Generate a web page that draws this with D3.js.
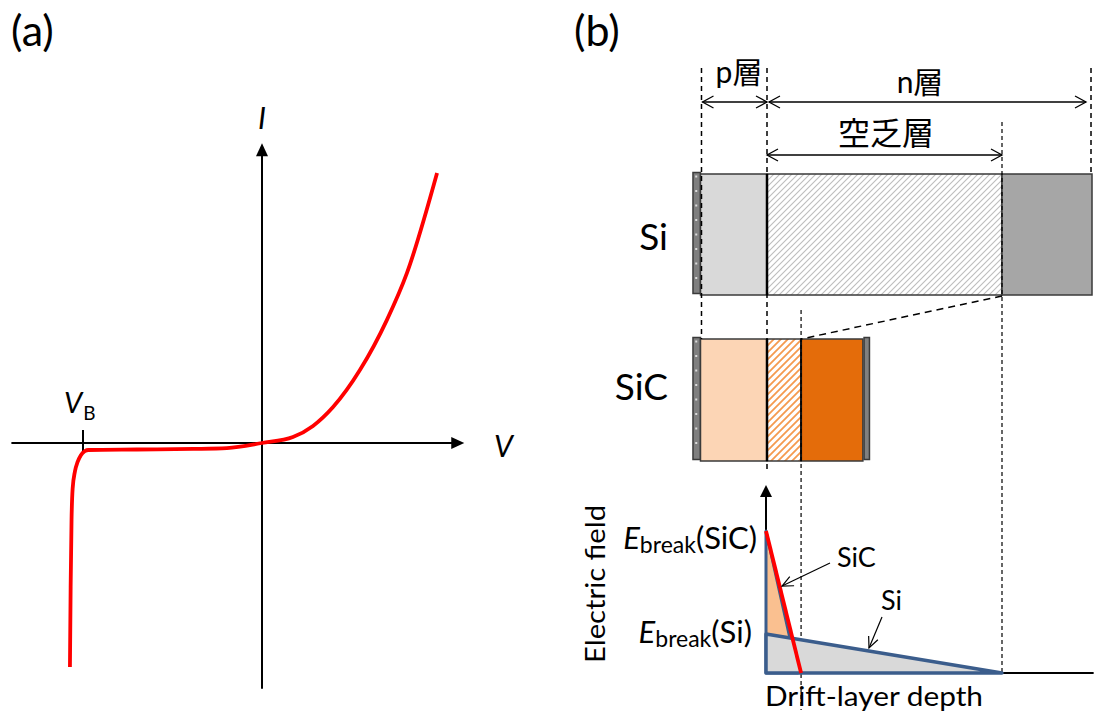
<!DOCTYPE html>
<html><head><meta charset="utf-8">
<script src="https://cdn.jsdelivr.net/npm/d3@7"></script>
<style>
html,body{margin:0;padding:0;background:#fff;}
svg{display:block;}
text{font-family:Lato,"Noto Sans CJK JP",sans-serif;fill:#000;}
</style></head>
<body><svg id="c" width="1094" height="713"></svg>
<script>
// ---------- DATA ----------
// (a) I-V characteristic (V normalised so that V_B = -1, I normalised to top of curve = 1)
const ivV = [-1.073,-1.069,-1.064,-1.058,-1.045,-1.03,-1.012,-0.99,-0.97,-0.7,-0.385,-0.196,0,0.173,0.285,0.397,0.547,0.698,0.81,0.978];
const ivI = [-0.83,-0.533,-0.285,-0.17,-0.105,-0.07,-0.045,-0.03,-0.026,-0.024,-0.022,-0.019,0,0.022,0.063,0.133,0.27,0.456,0.63,1.0];
const vAxisExtent = [-1.4, 1.13];
const iAxisExtent = [-0.91, 1.11];
const vBreak = -1;

// (b) layer structure (depth: junction = 0, Si depletion edge = 1)
const siLayerNames  = ["electrode","p","depletion","n"];
const siLayerStart  = [-0.315,-0.283,0,1.0];
const siLayerEnd    = [-0.283,0,1.0,1.383];
const sicLayerNames = ["electrode","p","depletion","n","electrode2"];
const sicLayerStart = [-0.315,-0.283,0,0.145,0.413];
const sicLayerEnd   = [-0.283,0,0.145,0.408,0.436];

// electric field profiles (field normalised to E_break(Si) = 1)
const siFieldDepth  = [0, 1.0];
const siFieldValue  = [1, 0];
const sicFieldDepth = [0, 0.145];
const sicFieldValue = [3.64, 0];
const eAxisTop = 4.82;
const baselineEnd = 1.39;

// ---------- SETUP ----------
const svg = d3.select("#c");
const defs = svg.append("defs");
function hatch(id, color, w, gap){
  const p = defs.append("pattern").attr("id",id).attr("patternUnits","userSpaceOnUse")
    .attr("width",gap).attr("height",gap);
  p.append("rect").attr("width",gap).attr("height",gap).attr("fill","#fff");
  p.append("path").attr("d",`M-1,1 l2,-2 M0,${gap} l${gap},-${gap} M${gap-1},${gap+1} l2,-2`)
    .attr("stroke",color).attr("stroke-width",w);
}
hatch("hSi","#bdbdbd",1.1,6);
hatch("hSiC","#f59a4e",1.8,7);

function filledHead(g,x,y,ang,len=13,half=6){
  const c=Math.cos(ang), s=Math.sin(ang);
  const bx=x-c*len, by=y-s*len;
  g.append("path").attr("d",`M${x},${y}L${bx - s*half},${by + c*half}L${bx + s*half},${by - c*half}Z`).attr("fill","#000");
}
function openHead(g,x,y,ang,len=11,half=6,w=1.3){
  const c=Math.cos(ang), s=Math.sin(ang);
  const bx=x-c*len, by=y-s*len;
  g.append("path").attr("d",`M${bx - s*half},${by + c*half}L${x},${y}L${bx + s*half},${by - c*half}`)
    .attr("fill","none").attr("stroke","#000").attr("stroke-width",w);
}

// ---------- (a) ----------
const xV = d3.scaleLinear().domain([-1,0]).range([83,262]);
const yI = d3.scaleLinear().domain([0,1]).range([443,173]);
const ga = svg.append("g");
ga.append("text").attr("x",11).attr("y",46).attr("font-size",43).text("(a)");
// axes
ga.append("line").attr("x1",xV(vAxisExtent[0])).attr("x2",xV(vAxisExtent[1])-8)
  .attr("y1",yI(0)).attr("y2",yI(0)).attr("stroke","#000").attr("stroke-width",2);
filledHead(ga,xV(vAxisExtent[1]),yI(0),0);
ga.append("line").attr("x1",xV(0)).attr("x2",xV(0))
  .attr("y1",yI(iAxisExtent[0])).attr("y2",yI(iAxisExtent[1])+8).attr("stroke","#000").attr("stroke-width",2);
filledHead(ga,xV(0),yI(iAxisExtent[1]),-Math.PI/2);
// V_B tick
ga.append("line").attr("x1",xV(vBreak)).attr("x2",xV(vBreak)).attr("y1",yI(0)-13).attr("y2",yI(0)+10)
  .attr("stroke","#000").attr("stroke-width",2);
// curve
const ivData = ivV.map((v,i)=>[v,ivI[i]]);
ga.append("path").datum(ivData)
  .attr("d",d3.line().x(d=>xV(d[0])).y(d=>yI(d[1])).curve(d3.curveMonotoneX))
  .attr("fill","none").attr("stroke","#ff0000").attr("stroke-width",3.8);
// labels
ga.append("text").attr("x",xV(0)-4).attr("y",129).attr("font-size",30).attr("font-style","italic").text("I");
ga.append("text").attr("x",494).attr("y",457).attr("font-size",30).attr("font-style","italic").text("V");
const vb = ga.append("text").attr("x",xV(vBreak)-19).attr("y",413).attr("font-size",29);
vb.append("tspan").attr("font-style","italic").text("V");
vb.append("tspan").attr("font-size",19).attr("dy",7).attr("dx",1).text("B");

// ---------- (b) ----------
const xd = d3.scaleLinear().domain([0,1]).range([767,1002]);
const yE = d3.scaleLinear().domain([0,1]).range([673,634]);
const gb = svg.append("g");
gb.append("text").attr("x",574).attr("y",46).attr("font-size",43).text("(b)");

const siTop=174, siBot=295, sicTop=339, sicBot=461;
const siFill = {electrode:"#7f7f7f", p:"#d9d9d9", depletion:"url(#hSi)", n:"#a6a6a6"};
const sicFill = {electrode:"#7f7f7f", p:"#fcd5b5", depletion:"url(#hSiC)", n:"#e46c0a", electrode2:"#808080"};

function drawBar(names, starts, ends, fills, y0, y1){
  names.forEach((nm,i)=>{
    const isE = nm.startsWith("electrode");
    const ey0 = isE ? y0-1.5 : y0, ey1 = isE ? y1-1.5 : y1;
    gb.append("rect").attr("x",xd(starts[i])).attr("y",ey0)
      .attr("width",xd(ends[i])-xd(starts[i])).attr("height",ey1-ey0)
      .attr("fill",fills[nm]).attr("stroke","#3a3a3a").attr("stroke-width",1.5);
    if(nm==="electrode"){
      const cx = (xd(starts[i])+xd(ends[i]))/2 - 0.5;
      d3.range(ey0+3, ey1-6, 14.5).forEach(yy=>{
        gb.append("rect").attr("x",cx-1).attr("y",yy).attr("width",2).attr("height",2).attr("fill","#dcdcdc");
      });
    }
  });
  // junction line
  gb.append("line").attr("x1",xd(0)).attr("x2",xd(0)).attr("y1",y0).attr("y2",y1)
    .attr("stroke","#000").attr("stroke-width",2.5);
}
drawBar(siLayerNames, siLayerStart, siLayerEnd, siFill, siTop, siBot);
drawBar(sicLayerNames, sicLayerStart, sicLayerEnd, sicFill, sicTop, sicBot);
gb.append("line").attr("x1",xd(sicLayerEnd[2])).attr("x2",xd(sicLayerEnd[2])).attr("y1",sicTop).attr("y2",sicBot)
  .attr("stroke","#111").attr("stroke-width",2);

// dashed guides
function dash(x1,y1,x2,y2,w=1.5,da="5,4"){
  gb.append("line").attr("x1",x1).attr("y1",y1).attr("x2",x2).attr("y2",y2)
    .attr("stroke","#000").attr("stroke-width",w).attr("stroke-dasharray",da);
}
dash(xd(siLayerStart[1])+1,68,xd(siLayerStart[1])+1,sicTop);
dash(xd(0),68,xd(0),469);
dash(xd(sicLayerEnd[2]),310,xd(sicLayerEnd[2]),710,1.2,"4,3");
dash(xd(1),122,xd(1),673,1.2,"4,3");
dash(xd(siLayerEnd[3])-1,68,xd(siLayerEnd[3])-1,siTop);
dash(xd(1),siBot+1,xd(sicLayerEnd[2]),sicTop,1.5,"7,5");

// dimension arrows
function dimArrow(xa,xb,y){
  gb.append("line").attr("x1",xa).attr("x2",xb).attr("y1",y).attr("y2",y).attr("stroke","#000").attr("stroke-width",1.3);
  openHead(gb,xa,y,Math.PI);
  openHead(gb,xb,y,0);
}
dimArrow(xd(siLayerStart[1])+2, xd(0), 102);
dimArrow(xd(0)+2, xd(siLayerEnd[3])-6, 102);
dimArrow(xd(0), xd(1), 155);
gb.append("text").attr("x",739).attr("y",83).attr("font-size",30).attr("text-anchor","middle").text("p層");
gb.append("text").attr("x",920).attr("y",93).attr("font-size",30).attr("text-anchor","middle").text("n層");
gb.append("text").attr("x",886).attr("y",145).attr("font-size",32).attr("text-anchor","middle").text("空乏層");

gb.append("text").attr("x",668).attr("y",250).attr("font-size",37).attr("text-anchor","end").text("Si");
gb.append("text").attr("x",668).attr("y",400).attr("font-size",37).attr("text-anchor","end").text("SiC");

// ---------- electric field plot ----------
const blue = "#3b5d8c";
const sicPoly = [[sicFieldDepth[0], sicFieldValue[0]], [sicFieldDepth[1]*0.9, sicFieldValue[1]], [0,0]];
const siPoly  = [[siFieldDepth[0], siFieldValue[0]], [siFieldDepth[1], siFieldValue[1]], [0,0]];
const axX = xd(0)-1;
const polyPath = pts => "M"+pts.map(p=>[xd(p[0])-(p[0]===0?1:0), yE(p[1])].join(",")).join("L")+"Z";
// y axis arrow
gb.append("line").attr("x1",axX).attr("x2",axX).attr("y1",yE(0)).attr("y2",yE(eAxisTop)+10)
  .attr("stroke","#000").attr("stroke-width",2);
filledHead(gb,axX,yE(eAxisTop),-Math.PI/2,12,6);
// baseline beyond depletion
gb.append("line").attr("x1",xd(1)).attr("x2",xd(baselineEnd)).attr("y1",yE(0)).attr("y2",yE(0))
  .attr("stroke","#000").attr("stroke-width",2);
gb.append("path").attr("d",polyPath(sicPoly)).attr("fill","#fac090").attr("stroke",blue).attr("stroke-width",3).attr("stroke-linejoin","round");
gb.append("path").attr("d",polyPath(siPoly)).attr("fill","#d9d9d9").attr("stroke",blue).attr("stroke-width",3.5).attr("stroke-linejoin","round");
gb.append("line").attr("x1",xd(sicFieldDepth[0])-1).attr("y1",yE(sicFieldValue[0]))
  .attr("x2",xd(sicFieldDepth[1])).attr("y2",yE(sicFieldValue[1]))
  .attr("stroke","#ff0000").attr("stroke-width",3.8);

// labels
const eSiC = gb.append("text").attr("x",757).attr("y",549).attr("font-size",31).attr("text-anchor","end");
eSiC.append("tspan").attr("font-style","italic").text("E");
eSiC.append("tspan").attr("font-size",23).attr("dy",4).text("break");
eSiC.append("tspan").attr("dy",-4).text("(SiC)");
const eSi = gb.append("text").attr("x",752).attr("y",643).attr("font-size",31).attr("text-anchor","end");
eSi.append("tspan").attr("font-style","italic").text("E");
eSi.append("tspan").attr("font-size",23).attr("dy",4).text("break");
eSi.append("tspan").attr("dy",-4).text("(Si)");

gb.append("text").attr("x",837).attr("y",567).attr("font-size",27).text("SiC");
gb.append("line").attr("x1",830).attr("y1",563).attr("x2",782).attr("y2",586).attr("stroke","#000").attr("stroke-width",1.2);
openHead(gb,782,586,Math.atan2(586-563,782-830),11,5,1.2);
gb.append("text").attr("x",881).attr("y",610).attr("font-size",27).text("Si");
gb.append("line").attr("x1",882).attr("y1",617).attr("x2",869).attr("y2",648).attr("stroke","#000").attr("stroke-width",1.2);
openHead(gb,869,648,Math.atan2(648-617,869-882),11,5,1.2);

gb.append("text").attr("transform","translate(605,584) rotate(-90)").attr("font-size",27)
  .attr("text-anchor","middle").attr("textLength",158).attr("lengthAdjust","spacingAndGlyphs").text("Electric field");
gb.append("text").attr("x",765).attr("y",706).attr("font-size",27)
  .attr("textLength",218).attr("lengthAdjust","spacingAndGlyphs").text("Drift-layer depth");
</script></body></html>
